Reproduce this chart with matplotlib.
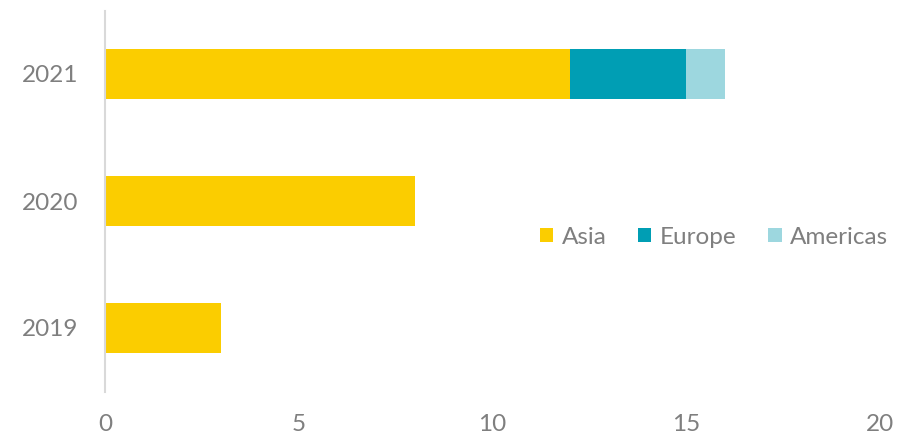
import matplotlib
matplotlib.use("Agg")
import matplotlib.pyplot as plt
import numpy as np

years = ["2019", "2020", "2021"]
asia = [3, 8, 12]
europe = [0, 0, 3]
americas = [0, 0, 1]
x_ticks = [0, 5, 10, 15, 20]

YELLOW = "#FBCD00"
TEAL = "#009EB4"
LIGHT = "#9DD7DF"
TEXT = "#7F7F7F"

plt.rcParams["font.family"] = ["Lato", "DejaVu Sans"]

fig = plt.figure(figsize=(9.22, 4.37), dpi=100)
ax = fig.add_axes([105 / 922, 45.5 / 437, 775 / 922, 381 / 437])

y = np.arange(len(years))
h = 0.4
asia_a = np.array(asia)
europe_a = np.array(europe)
americas_a = np.array(americas)
ax.barh(y, asia_a, h, color=YELLOW, label="Asia")
ax.barh(y, europe_a, h, left=asia_a, color=TEAL, label="Europe")
ax.barh(y, americas_a, h, left=asia_a + europe_a, color=LIGHT, label="Americas")

ax.set_xlim(0, 20)
ax.set_ylim(-0.5, 2.5)
ax.set_xticks(x_ticks)
ax.set_yticks(y)
ax.set_yticklabels(years)
ax.tick_params(axis="both", length=0, labelsize=17.5, labelcolor=TEXT)
ax.tick_params(axis="x", pad=16)
ax.tick_params(axis="y", pad=19)

for side in ["top", "right", "bottom"]:
    ax.spines[side].set_visible(False)
ax.spines["left"].set_color("#D9D9D9")
ax.spines["left"].set_linewidth(1.5)

leg = ax.legend(loc="center", bbox_to_anchor=(714 / 922, 1 - 237 / 437),
                bbox_transform=fig.transFigure, ncol=3, frameon=False,
                fontsize=17.5, handlelength=0.55, handleheight=0.55,
                handletextpad=0.35, columnspacing=1.3)
for t in leg.get_texts():
    t.set_color(TEXT)

fig.savefig("out.png", dpi=100)
